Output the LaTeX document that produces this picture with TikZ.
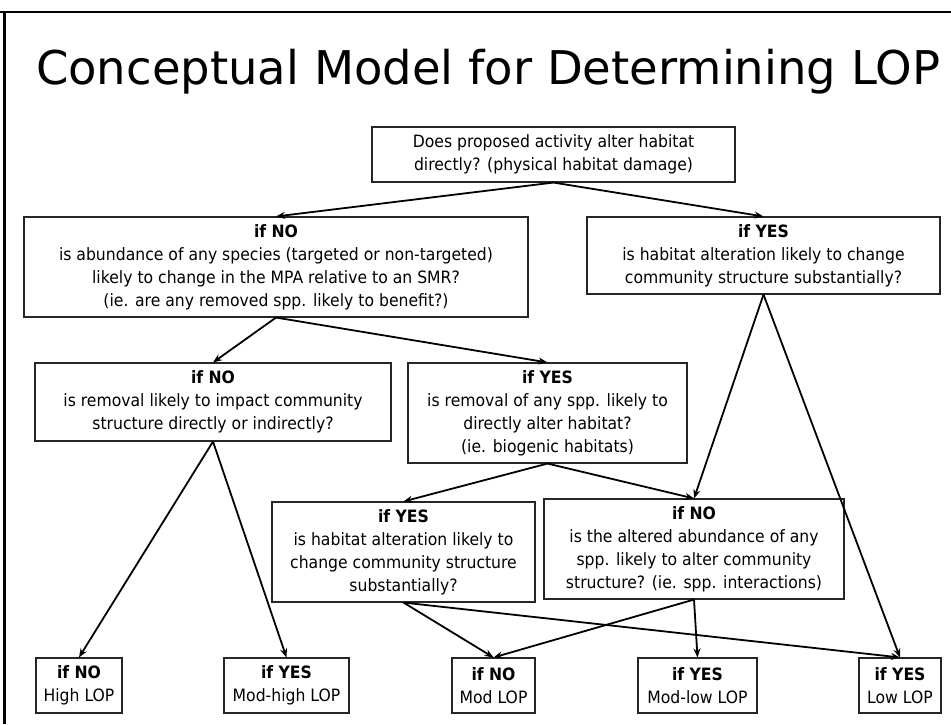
\documentclass[tikz,border=0pt]{standalone}
\usepackage{fontspec}
\setmainfont{DejaVu Sans}[FakeStretch=0.92]
\newfontfamily\titlefont{DejaVu Sans}
\usetikzlibrary{arrows.meta}
\tikzset{
  qbox/.style={draw=black!85,line width=1.1pt,align=center,inner sep=0pt,font=\fontsize{17}{23}\selectfont},
  arr/.style={-{Stealth[length=9pt,width=7pt]},line width=1.8pt},
}
\begin{document}
\begin{tikzpicture}[x=1pt,y=-1pt]
\useasboundingbox (0,0) rectangle (951,724);
\draw[line width=1.5pt] (0,12) -- (951,12);
\draw[line width=3pt] (4.5,12) -- (4.5,724);
\node[anchor=base] (title) at (488,84) {\titlefont\fontsize{46.5}{50}\selectfont Conceptual Model for Determining LOP};

% the question boxes

\node[qbox,minimum width=363pt,minimum height=55pt] (act) at (553.5,154.5) {Does proposed activity alter habitat\\directly? (physical habitat damage)};
\node[qbox,minimum width=504pt,minimum height=100pt] (abund) at (276,267) {\textbf{if NO}\\is abundance of any species (targeted or non-targeted)\\likely to change in the MPA relative to an SMR?\\(ie. are any removed spp. likely to benefit?)};
\node[qbox,minimum width=353pt,minimum height=77pt] (habalt) at (763.5,255.5) {\textbf{if YES}\\is habitat alteration likely to change\\community structure substantially?};
\node[qbox,minimum width=356pt,minimum height=78pt] (remimp) at (213,402) {\textbf{if NO}\\is removal likely to impact community\\structure directly or indirectly?};
\node[qbox,minimum width=279pt,minimum height=100pt] (remhab) at (547.5,413) {\textbf{if YES}\\is removal of any spp. likely to\\directly alter habitat?\\(ie. biogenic habitats)};
\node[qbox,minimum width=263pt,minimum height=100pt] (habchg) at (403.5,552) {\textbf{if YES}\\is habitat alteration likely to\\change community structure\\substantially?};
\node[qbox,minimum width=300pt,minimum height=100pt] (altab) at (694,549) {\textbf{if NO}\\is the altered abundance of any\\spp. likely to alter community\\structure? (ie. spp. interactions)};

% the LOP outcomes along the bottom

\foreach \n/\x/\w/\a/\lop in {high/79/86/NO/High,modhigh/286.5/125/YES/Mod-high,mod/493.5/83/NO/Mod,modlow/697.5/119/YES/Mod-low,low/900/82/YES/Low}
\node[qbox,minimum width=\w pt,minimum height=55pt] (\n) at (\x,685.5) {\textbf{if \a}\\\lop{} LOP};

% connectors, always bottom of one box to top of the next

\foreach \a/\b in {act/abund,act/habalt,abund/remimp,abund/remhab,habalt/altab,habalt/low,remimp/high,remimp/modhigh,remhab/habchg,remhab/altab,habchg/mod,habchg/low,altab/mod,altab/modlow}
\draw[arr] (\a.south) -- (\b.north);

\end{tikzpicture}
\end{document}
